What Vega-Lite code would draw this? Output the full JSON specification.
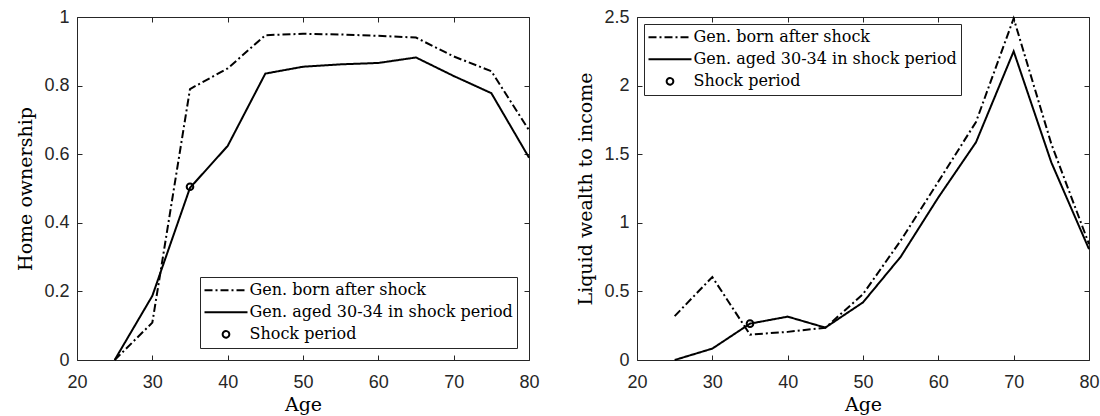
{
  "$schema": "https://vega.github.io/schema/vega-lite/v6.json",
  "background": "white",
  "padding": {"left": 16, "top": 7, "right": 5, "bottom": 0},
  "datasets": {
    "home": [
      {"series": "Gen. born after shock", "age": 25, "value": 0},
      {"series": "Gen. born after shock", "age": 30, "value": 0.109},
      {"series": "Gen. born after shock", "age": 35, "value": 0.79},
      {"series": "Gen. born after shock", "age": 40, "value": 0.85},
      {"series": "Gen. born after shock", "age": 45, "value": 0.947},
      {"series": "Gen. born after shock", "age": 50, "value": 0.951},
      {"series": "Gen. born after shock", "age": 55, "value": 0.949},
      {"series": "Gen. born after shock", "age": 60, "value": 0.945},
      {"series": "Gen. born after shock", "age": 65, "value": 0.94},
      {"series": "Gen. born after shock", "age": 70, "value": 0.885},
      {"series": "Gen. born after shock", "age": 75, "value": 0.842},
      {"series": "Gen. born after shock", "age": 80, "value": 0.67},
      {"series": "Gen. aged 30-34 in shock period", "age": 25, "value": 0},
      {"series": "Gen. aged 30-34 in shock period", "age": 30, "value": 0.187},
      {"series": "Gen. aged 30-34 in shock period", "age": 35, "value": 0.502},
      {"series": "Gen. aged 30-34 in shock period", "age": 40, "value": 0.624},
      {"series": "Gen. aged 30-34 in shock period", "age": 45, "value": 0.835},
      {"series": "Gen. aged 30-34 in shock period", "age": 50, "value": 0.855},
      {"series": "Gen. aged 30-34 in shock period", "age": 55, "value": 0.862},
      {"series": "Gen. aged 30-34 in shock period", "age": 60, "value": 0.866},
      {"series": "Gen. aged 30-34 in shock period", "age": 65, "value": 0.882},
      {"series": "Gen. aged 30-34 in shock period", "age": 70, "value": 0.828},
      {"series": "Gen. aged 30-34 in shock period", "age": 75, "value": 0.778},
      {"series": "Gen. aged 30-34 in shock period", "age": 80, "value": 0.59},
      {"series": "Shock period", "age": 35, "value": 0.505}
    ],
    "liquid": [
      {"series": "Gen. born after shock", "age": 25, "value": 0.32},
      {"series": "Gen. born after shock", "age": 30, "value": 0.605},
      {"series": "Gen. born after shock", "age": 35, "value": 0.185},
      {"series": "Gen. born after shock", "age": 40, "value": 0.205},
      {"series": "Gen. born after shock", "age": 45, "value": 0.235},
      {"series": "Gen. born after shock", "age": 50, "value": 0.48},
      {"series": "Gen. born after shock", "age": 55, "value": 0.87},
      {"series": "Gen. born after shock", "age": 60, "value": 1.3},
      {"series": "Gen. born after shock", "age": 65, "value": 1.735},
      {"series": "Gen. born after shock", "age": 70, "value": 2.49},
      {"series": "Gen. born after shock", "age": 75, "value": 1.575},
      {"series": "Gen. born after shock", "age": 80, "value": 0.845},
      {"series": "Gen. aged 30-34 in shock period", "age": 25, "value": 0},
      {"series": "Gen. aged 30-34 in shock period", "age": 30, "value": 0.083},
      {"series": "Gen. aged 30-34 in shock period", "age": 35, "value": 0.265},
      {"series": "Gen. aged 30-34 in shock period", "age": 40, "value": 0.316},
      {"series": "Gen. aged 30-34 in shock period", "age": 45, "value": 0.236},
      {"series": "Gen. aged 30-34 in shock period", "age": 50, "value": 0.42},
      {"series": "Gen. aged 30-34 in shock period", "age": 55, "value": 0.752},
      {"series": "Gen. aged 30-34 in shock period", "age": 60, "value": 1.185},
      {"series": "Gen. aged 30-34 in shock period", "age": 65, "value": 1.587},
      {"series": "Gen. aged 30-34 in shock period", "age": 70, "value": 2.25},
      {"series": "Gen. aged 30-34 in shock period", "age": 75, "value": 1.44},
      {"series": "Gen. aged 30-34 in shock period", "age": 80, "value": 0.808},
      {"series": "Shock period", "age": 35, "value": 0.265}
    ]
  },
  "config": {
    "view": {"stroke": "#262626", "strokeWidth": 1},
    "axis": {
      "labelFont": "Liberation Sans",
      "labelFontSize": 18,
      "labelColor": "#262626",
      "labelFlush": false,
      "labelOverlap": false,
      "labelPadding": 13,
      "titleFont": "DejaVu Serif",
      "titleFontSize": 19,
      "titleFontWeight": "normal",
      "titleColor": "#000000",
      "domain": false,
      "grid": false,
      "ticks": true,
      "tickSize": -5,
      "tickColor": "#262626",
      "tickWidth": 1
    },
    "axisX": {"labelPadding": 18, "titlePadding": 4},
    "axisY": {"titlePadding": 8},
    "legend": {
      "title": null,
      "labelFont": "DejaVu Serif",
      "labelFontSize": 16,
      "labelColor": "#000000",
      "labelLimit": 400,
      "labelOffset": 1,
      "strokeColor": "#262626",
      "fillColor": "white",
      "padding": 3.5,
      "rowPadding": 2,
      "clipHeight": 19.7,
      "symbolSize": 1849,
      "symbolStrokeWidth": 2,
      "symbolType": "stroke",
      "symbolStrokeColor": "black"
    }
  },
  "bounds": "flush",
  "spacing": 108,
  "resolve": {
    "scale": {"x": "independent", "y": "independent", "color": "independent", "strokeDash": "independent"},
    "legend": {"color": "independent"}
  },
  "hconcat": [
    {
      "width": 452,
      "height": 343,
      "data": {"name": "home"},
      "resolve": {"axis": {"x": "independent", "y": "independent"}},
      "layer": [
        {
          "transform": [{"filter": "datum.series !== 'Shock period'"}],
          "mark": {"type": "line", "strokeWidth": 2},
          "encoding": {
            "x": {"field": "age", "type": "quantitative", "scale": {"domain": [20, 80], "nice": false, "zero": false}, "axis": {"values": [20, 30, 40, 50, 60, 70, 80], "title": "Age"}},
            "y": {"field": "value", "type": "quantitative", "scale": {"domain": [0, 1], "nice": false}, "axis": {"values": [0, 0.2, 0.4, 0.6, 0.8, 1], "format": "~g", "title": "Home ownership"}},
            "color": {"field": "series", "type": "nominal", "scale": {"domain": ["Gen. born after shock", "Gen. aged 30-34 in shock period", "Shock period"], "range": ["black", "black", "black"]},
              "legend": {"orient": "bottom-right", "offset": 12,
                "encode": {"symbols": {"update": {
                  "shape": {"signal": "datum.value === 'Shock period' ? 'circle' : 'stroke'"},
                  "size": {"signal": "datum.value === 'Shock period' ? 44 : 1849"},
                  "strokeDash": {"signal": "datum.value === 'Gen. born after shock' ? [8,3,2,3] : [1,0]"},
                  "fill": {"value": "transparent"},
                  "stroke": {"value": "black"},
                  "strokeWidth": {"value": 2},
                  "opacity": {"value": 1}
                }}}}},
            "strokeDash": {"field": "series", "type": "nominal", "scale": {"domain": ["Gen. born after shock", "Gen. aged 30-34 in shock period"], "range": [[8, 3, 2, 3], [1, 0]]}, "legend": null}
          }
        },
        {
          "transform": [{"filter": "datum.series === 'Shock period'"}],
          "mark": {"type": "point", "filled": false, "strokeWidth": 2, "size": 44, "opacity": 1},
          "encoding": {
            "x": {"field": "age", "type": "quantitative", "axis": {"orient": "top", "labels": false, "title": null, "values": [20, 30, 40, 50, 60, 70, 80]}},
            "y": {"field": "value", "type": "quantitative", "axis": {"orient": "right", "labels": false, "title": null, "values": [0, 0.2, 0.4, 0.6, 0.8, 1]}},
            "color": {"field": "series", "type": "nominal"}
          }
        }
      ]
    },
    {
      "width": 452,
      "height": 343,
      "data": {"name": "liquid"},
      "resolve": {"axis": {"x": "independent", "y": "independent"}},
      "layer": [
        {
          "transform": [{"filter": "datum.series !== 'Shock period'"}],
          "mark": {"type": "line", "strokeWidth": 2},
          "encoding": {
            "x": {"field": "age", "type": "quantitative", "scale": {"domain": [20, 80], "nice": false, "zero": false}, "axis": {"values": [20, 30, 40, 50, 60, 70, 80], "title": "Age"}},
            "y": {"field": "value", "type": "quantitative", "scale": {"domain": [0, 2.5], "nice": false}, "axis": {"values": [0, 0.5, 1, 1.5, 2, 2.5], "format": "~g", "title": "Liquid wealth to income"}},
            "color": {"field": "series", "type": "nominal", "scale": {"domain": ["Gen. born after shock", "Gen. aged 30-34 in shock period", "Shock period"], "range": ["black", "black", "black"]},
              "legend": {"orient": "top-left", "offset": 7,
                "encode": {"symbols": {"update": {
                  "shape": {"signal": "datum.value === 'Shock period' ? 'circle' : 'stroke'"},
                  "size": {"signal": "datum.value === 'Shock period' ? 44 : 1849"},
                  "strokeDash": {"signal": "datum.value === 'Gen. born after shock' ? [8,3,2,3] : [1,0]"},
                  "fill": {"value": "transparent"},
                  "stroke": {"value": "black"},
                  "strokeWidth": {"value": 2},
                  "opacity": {"value": 1}
                }}}}},
            "strokeDash": {"field": "series", "type": "nominal", "scale": {"domain": ["Gen. born after shock", "Gen. aged 30-34 in shock period"], "range": [[8, 3, 2, 3], [1, 0]]}, "legend": null}
          }
        },
        {
          "transform": [{"filter": "datum.series === 'Shock period'"}],
          "mark": {"type": "point", "filled": false, "strokeWidth": 2, "size": 44, "opacity": 1},
          "encoding": {
            "x": {"field": "age", "type": "quantitative", "axis": {"orient": "top", "labels": false, "title": null, "values": [20, 30, 40, 50, 60, 70, 80]}},
            "y": {"field": "value", "type": "quantitative", "axis": {"orient": "right", "labels": false, "title": null, "values": [0, 0.5, 1, 1.5, 2, 2.5]}},
            "color": {"field": "series", "type": "nominal"}
          }
        }
      ]
    }
  ]
}
